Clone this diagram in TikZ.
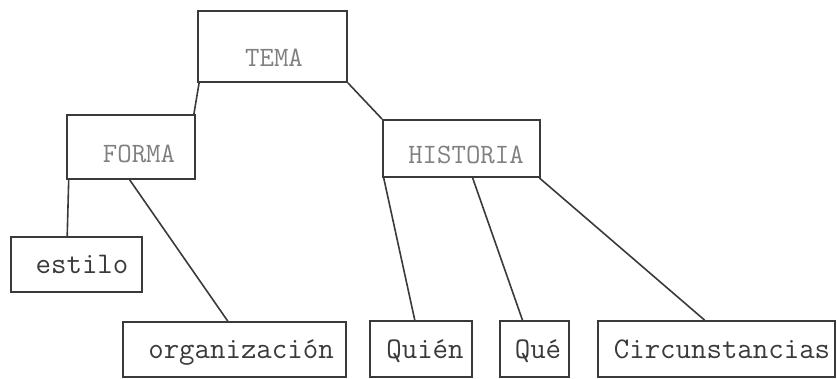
\documentclass[tikz,border=0pt]{standalone}
\usetikzlibrary{calc}
\definecolor{ink}{HTML}{3A3A3A}
\definecolor{faint}{HTML}{808080}
\tikzset{
  boxnode/.style={draw=ink, line width=1.8pt, rectangle, inner sep=0pt},
  toplabel/.style={font=\ttfamily\fontsize{28}{28}\selectfont, text=faint, inner sep=0pt, anchor=base},
  leaflabel/.style={font=\ttfamily\fontsize{30}{30}\selectfont, text=ink, inner sep=0pt, anchor=base},
  link/.style={draw=ink, line width=1.6pt}
}
\begin{document}
\begin{tikzpicture}[x=1pt,y=-1pt]
\useasboundingbox (0,0) rectangle (837,379);
% upper boxes
\node[boxnode, minimum width=149pt, minimum height=71pt] (tema) at (272.5,46.5) {};
\node[toplabel] (temat) at (274,67) {TEMA};
\node[boxnode, minimum width=128pt, minimum height=64pt] (forma) at (131,147) {};
\node[toplabel] (format) at (139,163) {FORMA};
\node[boxnode, minimum width=157pt, minimum height=57pt] (hist) at (461.5,148.5) {};
\node[toplabel] (histt) at (466,164) {HISTORIA};
% leaves
\node[boxnode, minimum width=131pt, minimum height=55pt] (estilo) at (76.5,264.5) {};
\node[leaflabel] (estilot) at (82,273) {estilo};
\node[boxnode, minimum width=223pt, minimum height=55pt] (org) at (234.5,349.5) {};
\node[leaflabel] (orgt) at (241,358) {organización};
\node[boxnode, minimum width=102pt, minimum height=56pt] (quien) at (421,349) {};
\node[leaflabel] (quient) at (425,358) {Quién};
\node[boxnode, minimum width=69pt, minimum height=56pt] (que) at (534.5,349) {};
\node[leaflabel] (quet) at (538,358) {Qué};
\node[boxnode, minimum width=237pt, minimum height=56pt] (circ) at (716.5,349) {};
\node[leaflabel] (circt) at (722,358) {Circunstancias};
% connectors
\draw[link] ($(tema.south west)+(2,0)$) -- ($(forma.north east)+(-2,0)$);
\draw[link] (tema.south east) -- (hist.north west);
\draw[link] ($(forma.south west)!0.02!(forma.south east)$) -- ($(estilo.north west)!0.43!(estilo.north east)$);
\draw[link] ($(forma.south west)!0.49!(forma.south east)$) -- ($(org.north west)!0.47!(org.north east)$);
\draw[link] ($(hist.south west)!0.01!(hist.south east)$) -- ($(quien.north west)!0.44!(quien.north east)$);
\draw[link] ($(hist.south west)!0.57!(hist.south east)$) -- ($(que.north west)!0.33!(que.north east)$);
\draw[link] ($(hist.south west)!0.99!(hist.south east)$) -- ($(circ.north west)!0.45!(circ.north east)$);
\end{tikzpicture}
\end{document}
